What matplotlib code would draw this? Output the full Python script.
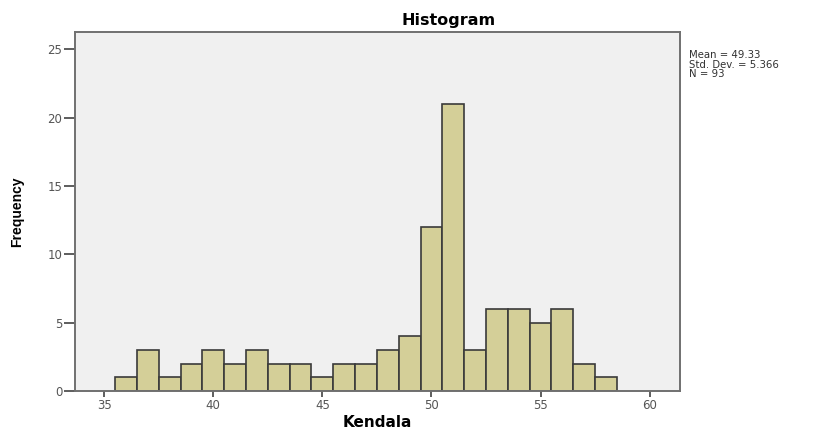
import numpy as np
import matplotlib
matplotlib.use("Agg")
import matplotlib.pyplot as plt

# === Data ===
kendala = [36, 37, 38, 39, 40, 41, 42, 43, 44, 45, 46, 47,
           48, 49, 50, 51, 52, 53, 54, 55, 56, 57, 58]
frequency = [1, 3, 1, 2, 3, 2, 3, 2, 2, 1, 2, 2,
             3, 4, 12, 21, 3, 6, 6, 5, 6, 2, 1]
x_ticks = [35, 40, 45, 50, 55, 60]
y_ticks = [0, 5, 10, 15, 20, 25]
stats_text = "Mean = 49.33\nStd. Dev. = 5.366\nN = 93"

# bins of width 1 centred on the integer values
edges = np.append(np.array(kendala) - 0.5, kendala[-1] + 0.5)

fig = plt.figure(figsize=(8.14, 4.33), dpi=100)
ax = fig.add_axes([0.0921, 0.097, 0.743, 0.829])
ax.set_facecolor("#f0f0f0")

ax.hist(kendala, bins=edges, weights=frequency,
        color="#d4cf98", edgecolor="#3a3a3a", linewidth=1.2)

ax.set_xlim(33.66, 61.38)
ax.set_ylim(0, 26.26)
ax.set_xticks(x_ticks)
ax.set_yticks(y_ticks)

for side in ["top", "right", "left", "bottom"]:
    ax.spines[side].set_color("#707070")
    ax.spines[side].set_linewidth(1.4)

wide = ["DejaVu Sans"]
ax.tick_params(axis="y", direction="out", length=8, width=1.3,
               color="#505050", labelsize=8.5, labelcolor="#555555", pad=1)
ax.tick_params(axis="x", direction="out", length=4, width=1.3,
               color="#505050", labelsize=8.5, labelcolor="#555555", pad=2)
for lab in ax.get_xticklabels() + ax.get_yticklabels():
    lab.set_family(wide)

narrow = ["Liberation Sans Narrow", "Liberation Sans", "DejaVu Sans"]
ax.set_xlabel("Kendala", fontsize=11, fontweight="bold",
              family=wide, labelpad=2)
ax.set_ylabel("Frequency", fontsize=10, fontweight="bold",
              family=narrow, labelpad=17)

fig.text(0.551, 0.953, "Histogram", ha="center", va="center",
         fontsize=11.5, fontweight="bold", family=wide)

fig.text(0.847, 0.884, stats_text, ha="left", va="top", fontsize=7.3,
         color="#303030", linespacing=0.92, family=wide)

fig.savefig("out.png", dpi=100)
